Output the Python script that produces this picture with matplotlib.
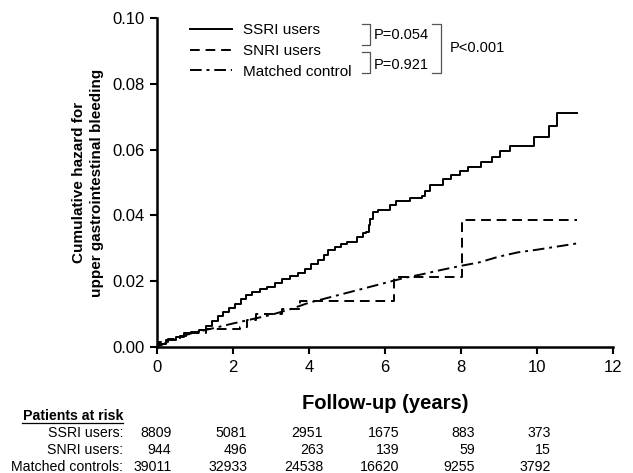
import matplotlib
matplotlib.use("Agg")
import matplotlib.pyplot as plt
from matplotlib.lines import Line2D
import matplotlib.transforms as mtransforms

plt.rcParams['font.family'] = ['Liberation Sans', 'DejaVu Sans']

# Cumulative hazard curves
ssri_t = [0, 0.05, 0.25, 0.5, 0.7, 0.9, 1.1, 1.3, 1.45, 1.6, 1.75, 1.9, 2.05, 2.2,
          2.35, 2.5, 2.7, 2.9, 3.1, 3.3, 3.5, 3.7, 3.9, 4.05, 4.25, 4.4, 4.5, 4.7,
          4.85, 5.0, 5.26, 5.42, 5.5, 5.57, 5.62, 5.7, 5.82, 6.13, 6.3, 6.66, 6.97,
          7.05, 7.18, 7.53, 7.75, 7.98, 8.19, 8.52, 8.82, 9.04, 9.29, 9.92, 10.33,
          10.54, 11.05]
ssri_h = [0, 0.001, 0.0021, 0.0032, 0.0042, 0.0047, 0.0052, 0.0065, 0.008, 0.0094,
          0.0108, 0.012, 0.0132, 0.0146, 0.0158, 0.0168, 0.0176, 0.0183, 0.0195,
          0.0207, 0.0215, 0.0225, 0.0238, 0.0254, 0.0265, 0.028, 0.0295, 0.0305,
          0.0312, 0.032, 0.0335, 0.0347, 0.035, 0.037, 0.039, 0.041, 0.0418, 0.0432,
          0.0444, 0.0452, 0.046, 0.0475, 0.0492, 0.051, 0.0522, 0.0535, 0.0547,
          0.0561, 0.0577, 0.0597, 0.0611, 0.0638, 0.0672, 0.0712, 0.0712]

snri_t = [0, 0.05, 0.3, 0.6, 0.9, 1.3, 2.18, 2.36, 2.62, 3.3, 3.76, 6.24, 8.02, 11.05]
snri_h = [0, 0.0015, 0.0025, 0.0035, 0.0042, 0.0054, 0.0062, 0.0082, 0.0102, 0.0115,
          0.0141, 0.0214, 0.0386, 0.0386]

ctrl_t = [0, 0.5, 1, 1.5, 2, 2.5, 3, 3.5, 4, 4.5, 5, 5.5, 6, 6.5, 7, 7.5, 8, 8.5,
          9, 9.5, 10, 10.5, 11.05]
ctrl_h = [0, 0.0028, 0.0045, 0.0058, 0.0072, 0.0085, 0.0098, 0.0115, 0.0135, 0.015,
          0.0165, 0.018, 0.0195, 0.021, 0.0222, 0.0235, 0.0247, 0.0258, 0.0275,
          0.0288, 0.0296, 0.0305, 0.0315]

# Patients at risk
risk_times = [0, 2, 4, 6, 8, 10]
risk_labels = ["SSRI users:", "SNRI users:", "Matched controls:"]
risk_ssri = [8809, 5081, 2951, 1675, 883, 373]
risk_snri = [944, 496, 263, 139, 59, 15]
risk_ctrl = [39011, 32933, 24538, 16620, 9255, 3792]

fig = plt.figure(figsize=(6.33, 4.73), dpi=100)
ax = fig.add_axes([0.248, 0.266, 0.72, 0.696])

ax.plot(ssri_t, ssri_h, color='black', lw=1.4, drawstyle='steps-post', label='SSRI users')
ax.plot(snri_t, snri_h, color='black', lw=1.4, drawstyle='steps-post',
        linestyle=(0, (5, 3)), label='SNRI users')
ax.plot(ctrl_t, ctrl_h, color='black', lw=1.4, linestyle=(0, (6, 2.5, 1.5, 2.5)),
        label='Matched control')

ax.set_xlim(0, 12)
ax.set_ylim(0, 0.10)
ax.set_xticks(range(0, 13, 2))
ax.set_yticks([0, 0.02, 0.04, 0.06, 0.08, 0.10])
ax.set_yticklabels(['0.00', '0.02', '0.04', '0.06', '0.08', '0.10'])
for s in ['top', 'right']:
    ax.spines[s].set_visible(False)
for s in ['left', 'bottom']:
    ax.spines[s].set_linewidth(1.8)
ax.tick_params(width=1.5, length=5, labelsize=12, direction='out', pad=4)

ax.set_ylabel("Cumulative hazard for\nupper gastrointestinal bleeding",
              fontsize=11, fontweight='bold', labelpad=6, linespacing=1.3)
ax.set_xlabel("Follow-up (years)", fontsize=14.5, fontweight='bold', labelpad=14)

W, H = 633.0, 473.0
def fx(px):
    return px / W
def fy(py):
    return 1 - py / H

leg = ax.legend(loc='upper left', bbox_to_anchor=(fx(190), fy(23)),
                bbox_transform=fig.transFigure, frameon=False, borderpad=0,
                borderaxespad=0, fontsize=11, handlelength=2.75, labelspacing=0.45,
                handletextpad=0.7)

# P-value brackets
def bracket(x0, x1, y0, y1):
    fig.add_artist(Line2D([fx(x0), fx(x1), fx(x1), fx(x0)],
                          [fy(y0), fy(y0), fy(y1), fy(y1)], color='#555555', lw=0.9))

bracket(362, 370, 24, 45)
bracket(362, 370, 52, 73)
bracket(432, 441, 24, 73)
fig.text(fx(374), fy(35), "P=0.054", fontsize=10.5, va='center')
fig.text(fx(374), fy(65), "P=0.921", fontsize=10.5, va='center')
fig.text(fx(450), fy(48), "P<0.001", fontsize=10.5, va='center')

# Patients at risk table
trans = mtransforms.blended_transform_factory(ax.transData, fig.transFigure)
fig.text(fx(123), fy(416), "Patients at risk", fontsize=10.2, fontweight='bold',
         ha='right', va='center')
fig.add_artist(Line2D([fx(22), fx(123)], [fy(423), fy(423)], color='black', lw=0.9))
row_y = [433, 450, 467]
for label, vals, yy in zip(risk_labels, [risk_ssri, risk_snri, risk_ctrl], row_y):
    fig.text(fx(123), fy(yy), label, fontsize=10.2, ha='right', va='center')
    for tt, v in zip(risk_times, vals):
        fig.text(tt + 0.38, fy(yy), str(v), fontsize=10.2, ha='right', va='center',
                 transform=trans)

fig.savefig("out.png", dpi=100)
